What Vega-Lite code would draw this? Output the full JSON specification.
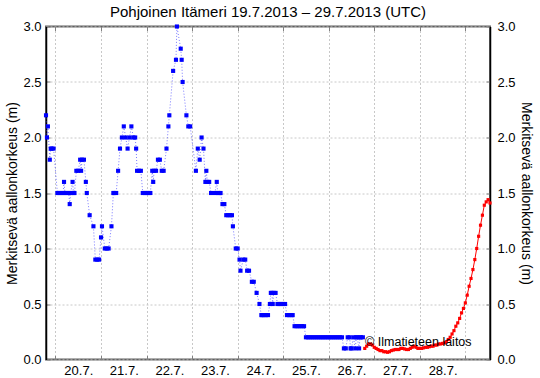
{
  "$schema": "https://vega.github.io/schema/vega-lite/v6.json",
  "width": 444,
  "height": 333,
  "autosize": {"type": "none"},
  "padding": {"left": 46, "top": 26.5, "right": 50, "bottom": 18.5},
  "background": "white",
  "title": {
    "text": "Pohjoinen Itämeri 19.7.2013 – 29.7.2013 (UTC)",
    "font": "Liberation Sans",
    "fontSize": 15,
    "fontWeight": "normal",
    "color": "black",
    "anchor": "middle",
    "frame": "group",
    "baseline": "bottom",
    "offset": -14
  },
  "config": {
    "view": {"stroke": "#606060", "strokeWidth": 2},
    "axis": {
      "labelFont": "Liberation Sans",
      "labelFontSize": 13,
      "labelColor": "black",
      "titleFont": "Liberation Sans",
      "titleFontSize": 14,
      "titleFontWeight": "normal",
      "titleColor": "black",
      "tickColor": "#808080",
      "tickSize": -4,
      "gridColor": "#c8c8c8",
      "gridDash": [2, 2],
      "labelFlush": false,
      "labelOverlap": false
    }
  },
  "datasets": {
    "obs": [
      {"t": "2013-07-19T19:00Z", "v": 2.2}, {"t": "2013-07-19T19:30Z", "v": 2.0}, {"t": "2013-07-19T20:00Z", "v": 2.1},
      {"t": "2013-07-19T21:00Z", "v": 1.8}, {"t": "2013-07-19T21:30Z", "v": 1.9}, {"t": "2013-07-19T22:00Z", "v": 1.9},
      {"t": "2013-07-19T23:00Z", "v": 1.9},
      {"t": "2013-07-20T01:00Z", "v": 1.5}, {"t": "2013-07-20T02:00Z", "v": 1.5}, {"t": "2013-07-20T03:00Z", "v": 1.5},
      {"t": "2013-07-20T04:00Z", "v": 1.5}, {"t": "2013-07-20T04:30Z", "v": 1.6}, {"t": "2013-07-20T05:00Z", "v": 1.5},
      {"t": "2013-07-20T06:00Z", "v": 1.5}, {"t": "2013-07-20T07:00Z", "v": 1.5}, {"t": "2013-07-20T07:30Z", "v": 1.4},
      {"t": "2013-07-20T08:00Z", "v": 1.5}, {"t": "2013-07-20T09:00Z", "v": 1.6}, {"t": "2013-07-20T09:30Z", "v": 1.5},
      {"t": "2013-07-20T10:00Z", "v": 1.5}, {"t": "2013-07-20T11:00Z", "v": 1.7}, {"t": "2013-07-20T12:00Z", "v": 1.7},
      {"t": "2013-07-20T13:00Z", "v": 1.8}, {"t": "2013-07-20T13:30Z", "v": 1.7}, {"t": "2013-07-20T14:00Z", "v": 1.8},
      {"t": "2013-07-20T15:00Z", "v": 1.8}, {"t": "2013-07-20T16:00Z", "v": 1.6}, {"t": "2013-07-20T16:30Z", "v": 1.5},
      {"t": "2013-07-20T18:00Z", "v": 1.3}, {"t": "2013-07-20T20:00Z", "v": 1.2}, {"t": "2013-07-20T21:00Z", "v": 0.9},
      {"t": "2013-07-20T22:00Z", "v": 0.9}, {"t": "2013-07-20T23:00Z", "v": 0.9},
      {"t": "2013-07-21T00:00Z", "v": 1.1}, {"t": "2013-07-21T00:30Z", "v": 1.2}, {"t": "2013-07-21T02:00Z", "v": 1.0},
      {"t": "2013-07-21T03:00Z", "v": 1.0}, {"t": "2013-07-21T04:00Z", "v": 1.0}, {"t": "2013-07-21T05:30Z", "v": 1.2},
      {"t": "2013-07-21T06:30Z", "v": 1.5}, {"t": "2013-07-21T07:00Z", "v": 1.5}, {"t": "2013-07-21T08:00Z", "v": 1.5},
      {"t": "2013-07-21T09:00Z", "v": 1.7}, {"t": "2013-07-21T10:00Z", "v": 1.9}, {"t": "2013-07-21T11:00Z", "v": 2.0},
      {"t": "2013-07-21T12:00Z", "v": 2.1}, {"t": "2013-07-21T13:00Z", "v": 2.0}, {"t": "2013-07-21T14:00Z", "v": 1.9},
      {"t": "2013-07-21T15:00Z", "v": 2.0}, {"t": "2013-07-21T16:00Z", "v": 2.1}, {"t": "2013-07-21T17:00Z", "v": 2.0},
      {"t": "2013-07-21T18:00Z", "v": 2.0}, {"t": "2013-07-21T18:30Z", "v": 1.9}, {"t": "2013-07-21T19:00Z", "v": 1.7},
      {"t": "2013-07-21T20:00Z", "v": 1.7}, {"t": "2013-07-21T21:00Z", "v": 1.7}, {"t": "2013-07-21T22:00Z", "v": 1.5},
      {"t": "2013-07-21T23:00Z", "v": 1.5},
      {"t": "2013-07-22T00:00Z", "v": 1.5}, {"t": "2013-07-22T01:00Z", "v": 1.5}, {"t": "2013-07-22T02:00Z", "v": 1.5},
      {"t": "2013-07-22T03:00Z", "v": 1.7}, {"t": "2013-07-22T03:30Z", "v": 1.6}, {"t": "2013-07-22T04:00Z", "v": 1.7},
      {"t": "2013-07-22T05:00Z", "v": 1.7}, {"t": "2013-07-22T06:00Z", "v": 1.8}, {"t": "2013-07-22T07:00Z", "v": 1.8},
      {"t": "2013-07-22T08:00Z", "v": 1.7}, {"t": "2013-07-22T09:00Z", "v": 1.7}, {"t": "2013-07-22T10:30Z", "v": 1.9},
      {"t": "2013-07-22T11:30Z", "v": 2.1}, {"t": "2013-07-22T12:00Z", "v": 2.2}, {"t": "2013-07-22T14:00Z", "v": 2.6},
      {"t": "2013-07-22T15:30Z", "v": 2.7}, {"t": "2013-07-22T16:00Z", "v": 3.0}, {"t": "2013-07-22T18:00Z", "v": 2.8},
      {"t": "2013-07-22T18:30Z", "v": 2.7}, {"t": "2013-07-22T19:00Z", "v": 2.5}, {"t": "2013-07-22T21:00Z", "v": 2.2},
      {"t": "2013-07-22T22:00Z", "v": 2.1}, {"t": "2013-07-22T23:00Z", "v": 2.1},
      {"t": "2013-07-23T02:00Z", "v": 1.7}, {"t": "2013-07-23T03:00Z", "v": 1.9}, {"t": "2013-07-23T04:00Z", "v": 1.8},
      {"t": "2013-07-23T05:00Z", "v": 2.0}, {"t": "2013-07-23T06:00Z", "v": 1.9}, {"t": "2013-07-23T07:00Z", "v": 1.6},
      {"t": "2013-07-23T07:30Z", "v": 1.7}, {"t": "2013-07-23T08:00Z", "v": 1.6}, {"t": "2013-07-23T09:00Z", "v": 1.6},
      {"t": "2013-07-23T10:00Z", "v": 1.5}, {"t": "2013-07-23T12:00Z", "v": 1.5}, {"t": "2013-07-23T13:00Z", "v": 1.6},
      {"t": "2013-07-23T13:30Z", "v": 1.5}, {"t": "2013-07-23T14:00Z", "v": 1.5}, {"t": "2013-07-23T15:00Z", "v": 1.5},
      {"t": "2013-07-23T16:00Z", "v": 1.4}, {"t": "2013-07-23T17:00Z", "v": 1.4}, {"t": "2013-07-23T18:00Z", "v": 1.3},
      {"t": "2013-07-23T19:00Z", "v": 1.3}, {"t": "2013-07-23T20:00Z", "v": 1.3}, {"t": "2013-07-23T21:00Z", "v": 1.3},
      {"t": "2013-07-23T21:30Z", "v": 1.2}, {"t": "2013-07-23T23:00Z", "v": 1.0},
      {"t": "2013-07-24T00:00Z", "v": 1.0}, {"t": "2013-07-24T01:00Z", "v": 0.9}, {"t": "2013-07-24T01:30Z", "v": 0.8},
      {"t": "2013-07-24T03:00Z", "v": 0.9}, {"t": "2013-07-24T04:00Z", "v": 0.9}, {"t": "2013-07-24T05:00Z", "v": 0.8},
      {"t": "2013-07-24T06:00Z", "v": 0.8}, {"t": "2013-07-24T07:30Z", "v": 0.7}, {"t": "2013-07-24T08:30Z", "v": 0.7},
      {"t": "2013-07-24T10:00Z", "v": 0.6}, {"t": "2013-07-24T11:30Z", "v": 0.5}, {"t": "2013-07-24T12:30Z", "v": 0.4},
      {"t": "2013-07-24T13:00Z", "v": 0.4}, {"t": "2013-07-24T14:00Z", "v": 0.4}, {"t": "2013-07-24T15:00Z", "v": 0.4},
      {"t": "2013-07-24T16:00Z", "v": 0.4}, {"t": "2013-07-24T17:00Z", "v": 0.5}, {"t": "2013-07-24T17:30Z", "v": 0.6},
      {"t": "2013-07-24T18:00Z", "v": 0.6}, {"t": "2013-07-24T18:30Z", "v": 0.5}, {"t": "2013-07-24T19:00Z", "v": 0.6},
      {"t": "2013-07-24T20:00Z", "v": 0.6}, {"t": "2013-07-24T21:00Z", "v": 0.5}, {"t": "2013-07-24T22:00Z", "v": 0.5},
      {"t": "2013-07-24T23:00Z", "v": 0.5},
      {"t": "2013-07-25T00:00Z", "v": 0.5}, {"t": "2013-07-25T01:00Z", "v": 0.5}, {"t": "2013-07-25T02:00Z", "v": 0.4},
      {"t": "2013-07-25T03:00Z", "v": 0.4}, {"t": "2013-07-25T04:00Z", "v": 0.4}, {"t": "2013-07-25T05:00Z", "v": 0.4},
      {"t": "2013-07-25T06:00Z", "v": 0.3}, {"t": "2013-07-25T07:00Z", "v": 0.3}, {"t": "2013-07-25T08:00Z", "v": 0.3},
      {"t": "2013-07-25T09:00Z", "v": 0.3}, {"t": "2013-07-25T10:00Z", "v": 0.3}, {"t": "2013-07-25T11:00Z", "v": 0.3},
      {"t": "2013-07-25T12:00Z", "v": 0.2}, {"t": "2013-07-25T13:00Z", "v": 0.2}, {"t": "2013-07-25T14:00Z", "v": 0.2},
      {"t": "2013-07-25T15:00Z", "v": 0.2}, {"t": "2013-07-25T16:00Z", "v": 0.2}, {"t": "2013-07-25T17:00Z", "v": 0.2},
      {"t": "2013-07-25T18:00Z", "v": 0.2}, {"t": "2013-07-25T19:00Z", "v": 0.2}, {"t": "2013-07-25T20:00Z", "v": 0.2},
      {"t": "2013-07-25T21:00Z", "v": 0.2}, {"t": "2013-07-25T22:00Z", "v": 0.2}, {"t": "2013-07-25T23:00Z", "v": 0.2},
      {"t": "2013-07-26T00:00Z", "v": 0.2}, {"t": "2013-07-26T01:00Z", "v": 0.2}, {"t": "2013-07-26T02:00Z", "v": 0.2},
      {"t": "2013-07-26T03:00Z", "v": 0.2}, {"t": "2013-07-26T04:00Z", "v": 0.2}, {"t": "2013-07-26T05:00Z", "v": 0.2},
      {"t": "2013-07-26T06:00Z", "v": 0.2}, {"t": "2013-07-26T07:00Z", "v": 0.2}, {"t": "2013-07-26T08:00Z", "v": 0.1},
      {"t": "2013-07-26T09:00Z", "v": 0.1}, {"t": "2013-07-26T10:00Z", "v": 0.2}, {"t": "2013-07-26T11:00Z", "v": 0.2},
      {"t": "2013-07-26T11:30Z", "v": 0.1}, {"t": "2013-07-26T12:00Z", "v": 0.1}, {"t": "2013-07-26T13:00Z", "v": 0.2},
      {"t": "2013-07-26T14:00Z", "v": 0.1}, {"t": "2013-07-26T14:30Z", "v": 0.2}, {"t": "2013-07-26T15:00Z", "v": 0.2},
      {"t": "2013-07-26T16:00Z", "v": 0.1}, {"t": "2013-07-26T16:30Z", "v": 0.2}, {"t": "2013-07-26T17:00Z", "v": 0.2},
      {"t": "2013-07-26T18:00Z", "v": 0.2}
    ],
    "fc": [
      {"t": "2013-07-26T19:00Z", "v": 0.10}, {"t": "2013-07-26T20:00Z", "v": 0.12}, {"t": "2013-07-26T21:00Z", "v": 0.14},
      {"t": "2013-07-26T22:00Z", "v": 0.14}, {"t": "2013-07-26T23:00Z", "v": 0.13},
      {"t": "2013-07-27T00:00Z", "v": 0.11}, {"t": "2013-07-27T01:00Z", "v": 0.10}, {"t": "2013-07-27T02:00Z", "v": 0.09},
      {"t": "2013-07-27T03:00Z", "v": 0.08}, {"t": "2013-07-27T04:00Z", "v": 0.08}, {"t": "2013-07-27T05:00Z", "v": 0.07},
      {"t": "2013-07-27T06:00Z", "v": 0.07}, {"t": "2013-07-27T07:00Z", "v": 0.065}, {"t": "2013-07-27T08:00Z", "v": 0.07},
      {"t": "2013-07-27T09:00Z", "v": 0.08}, {"t": "2013-07-27T10:00Z", "v": 0.085}, {"t": "2013-07-27T11:00Z", "v": 0.09},
      {"t": "2013-07-27T12:00Z", "v": 0.09}, {"t": "2013-07-27T13:00Z", "v": 0.09}, {"t": "2013-07-27T14:00Z", "v": 0.10},
      {"t": "2013-07-27T15:00Z", "v": 0.10}, {"t": "2013-07-27T16:00Z", "v": 0.095}, {"t": "2013-07-27T17:00Z", "v": 0.09},
      {"t": "2013-07-27T18:00Z", "v": 0.09}, {"t": "2013-07-27T19:00Z", "v": 0.10}, {"t": "2013-07-27T20:00Z", "v": 0.11},
      {"t": "2013-07-27T21:00Z", "v": 0.12}, {"t": "2013-07-27T22:00Z", "v": 0.11}, {"t": "2013-07-27T23:00Z", "v": 0.10},
      {"t": "2013-07-28T00:00Z", "v": 0.10}, {"t": "2013-07-28T01:00Z", "v": 0.10}, {"t": "2013-07-28T02:00Z", "v": 0.105},
      {"t": "2013-07-28T03:00Z", "v": 0.11}, {"t": "2013-07-28T04:00Z", "v": 0.11}, {"t": "2013-07-28T05:00Z", "v": 0.115},
      {"t": "2013-07-28T06:00Z", "v": 0.12}, {"t": "2013-07-28T07:00Z", "v": 0.12}, {"t": "2013-07-28T08:00Z", "v": 0.13},
      {"t": "2013-07-28T09:00Z", "v": 0.13}, {"t": "2013-07-28T10:00Z", "v": 0.14}, {"t": "2013-07-28T11:00Z", "v": 0.14},
      {"t": "2013-07-28T12:00Z", "v": 0.145}, {"t": "2013-07-28T13:00Z", "v": 0.15}, {"t": "2013-07-28T14:00Z", "v": 0.16},
      {"t": "2013-07-28T15:00Z", "v": 0.18}, {"t": "2013-07-28T16:00Z", "v": 0.20}, {"t": "2013-07-28T17:00Z", "v": 0.23},
      {"t": "2013-07-28T18:00Z", "v": 0.26}, {"t": "2013-07-28T19:00Z", "v": 0.30}, {"t": "2013-07-28T20:00Z", "v": 0.33},
      {"t": "2013-07-28T21:00Z", "v": 0.37}, {"t": "2013-07-28T22:00Z", "v": 0.42}, {"t": "2013-07-28T23:00Z", "v": 0.46},
      {"t": "2013-07-29T00:00Z", "v": 0.51}, {"t": "2013-07-29T01:00Z", "v": 0.58}, {"t": "2013-07-29T02:00Z", "v": 0.66},
      {"t": "2013-07-29T03:00Z", "v": 0.73}, {"t": "2013-07-29T04:00Z", "v": 0.81}, {"t": "2013-07-29T05:00Z", "v": 0.90},
      {"t": "2013-07-29T06:00Z", "v": 1.00}, {"t": "2013-07-29T07:00Z", "v": 1.11}, {"t": "2013-07-29T08:00Z", "v": 1.21},
      {"t": "2013-07-29T09:00Z", "v": 1.30}, {"t": "2013-07-29T10:00Z", "v": 1.39}, {"t": "2013-07-29T11:00Z", "v": 1.42},
      {"t": "2013-07-29T12:00Z", "v": 1.44}, {"t": "2013-07-29T13:00Z", "v": 1.41}
    ]
  },
  "layer": [
    {
      "data": {"name": "obs"},
      "mark": {"type": "line", "color": "#4040ff", "strokeWidth": 1, "strokeDash": [1, 2], "opacity": 0.7},
      "encoding": {
        "x": {
          "field": "t", "type": "temporal",
          "scale": {"type": "utc", "domain": [{"year": 2013, "month": 7, "date": 19, "hours": 19, "utc": true}, {"year": 2013, "month": 7, "date": 29, "hours": 13, "utc": true}]},
          "axis": {
            "orient": "bottom", "title": null, "grid": true, "domain": false,
            "values": [
              {"year": 2013, "month": 7, "date": 20, "utc": true}, {"year": 2013, "month": 7, "date": 21, "utc": true},
              {"year": 2013, "month": 7, "date": 22, "utc": true}, {"year": 2013, "month": 7, "date": 23, "utc": true},
              {"year": 2013, "month": 7, "date": 24, "utc": true}, {"year": 2013, "month": 7, "date": 25, "utc": true},
              {"year": 2013, "month": 7, "date": 26, "utc": true}, {"year": 2013, "month": 7, "date": 27, "utc": true},
              {"year": 2013, "month": 7, "date": 28, "utc": true}, {"year": 2013, "month": 7, "date": 29, "utc": true}
            ],
            "labelExpr": "utcdate(datum.value) == 29 ? '' : utcFormat(datum.value, '%-d.%-m.')",
            "labelOffset": 22.8,
            "labelPadding": 8.5
          }
        },
        "y": {
          "field": "v", "type": "quantitative",
          "scale": {"domain": [0, 3], "nice": false},
          "axis": {
            "orient": "left", "title": "Merkitsevä aallonkorkeus (m)", "grid": true,
            "values": [0, 0.5, 1, 1.5, 2, 2.5, 3], "format": ".1f",
            "labelPadding": 9, "titlePadding": 3, "domainColor": "black", "domainWidth": 1.5
          }
        }
      }
    },
    {
      "data": {"name": "obs"},
      "mark": {"type": "point", "shape": "square", "filled": true, "size": 17, "color": "#0000ff", "opacity": 1},
      "encoding": {
        "x": {"field": "t", "type": "temporal",
          "axis": {"orient": "top", "title": null, "labels": false, "grid": false, "domain": false,
            "values": [
              {"year": 2013, "month": 7, "date": 20, "utc": true}, {"year": 2013, "month": 7, "date": 21, "utc": true},
              {"year": 2013, "month": 7, "date": 22, "utc": true}, {"year": 2013, "month": 7, "date": 23, "utc": true},
              {"year": 2013, "month": 7, "date": 24, "utc": true}, {"year": 2013, "month": 7, "date": 25, "utc": true},
              {"year": 2013, "month": 7, "date": 26, "utc": true}, {"year": 2013, "month": 7, "date": 27, "utc": true},
              {"year": 2013, "month": 7, "date": 28, "utc": true}, {"year": 2013, "month": 7, "date": 29, "utc": true}
            ]}},
        "y": {"field": "v", "type": "quantitative",
          "axis": {"orient": "right", "title": "Merkitsevä aallonkorkeus (m)", "grid": false,
            "values": [0, 0.5, 1, 1.5, 2, 2.5, 3], "format": ".1f",
            "labelPadding": 11, "titlePadding": 3, "domainColor": "black", "domainWidth": 1.5}}
      }
    },
    {
      "data": {"name": "fc"},
      "mark": {"type": "line", "color": "#ff0000", "strokeWidth": 1},
      "encoding": {
        "x": {"field": "t", "type": "temporal", "axis": null},
        "y": {"field": "v", "type": "quantitative", "axis": null}
      }
    },
    {
      "data": {"name": "fc"},
      "mark": {"type": "point", "shape": "square", "filled": true, "size": 10, "color": "#ff0000", "opacity": 1},
      "encoding": {
        "x": {"field": "t", "type": "temporal", "axis": null},
        "y": {"field": "v", "type": "quantitative", "axis": null}
      }
    },
    {
      "data": {"values": [{"t": "2013-07-26T19:10Z", "v": 0.158, "label": "© Ilmatieteen laitos"}]},
      "mark": {"type": "text", "font": "Liberation Sans", "fontSize": 12.5, "color": "black", "align": "left", "baseline": "middle"},
      "encoding": {
        "x": {"field": "t", "type": "temporal", "axis": null},
        "y": {"field": "v", "type": "quantitative", "axis": null},
        "text": {"field": "label"}
      }
    }
  ]
}
